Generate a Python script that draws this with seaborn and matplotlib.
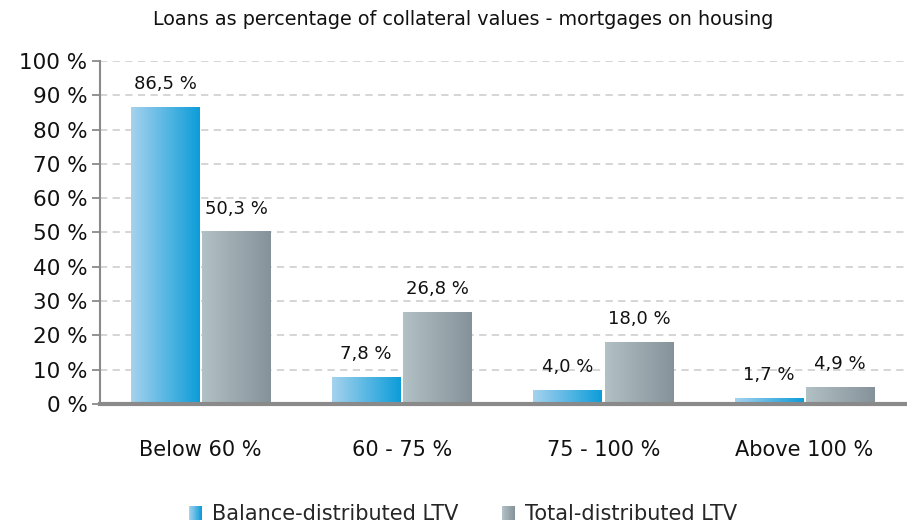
import numpy as np
import pandas as pd
import matplotlib
matplotlib.use("Agg")
import matplotlib.pyplot as plt
import seaborn as sns
from matplotlib.colors import LinearSegmentedColormap
from matplotlib.legend_handler import HandlerBase
from matplotlib.patches import Rectangle

categories = ["Below 60 %", "60 - 75 %", "75 - 100 %", "Above 100 %"]
balance_ltv = [86.5, 7.8, 4.0, 1.7]
total_ltv = [50.3, 26.8, 18.0, 4.9]
series_names = ["Balance-distributed LTV", "Total-distributed LTV"]
y_ticks = [0, 10, 20, 30, 40, 50, 60, 70, 80, 90, 100]

gradients = {
    series_names[0]: ("#a6d2ee", "#0c9dd9"),
    series_names[1]: ("#b2c1c5", "#85929a"),
}

df = pd.DataFrame({
    "category": categories * 2,
    "value": balance_ltv + total_ltv,
    "series": [series_names[0]] * len(categories) + [series_names[1]] * len(categories),
})

sns.set_theme(style="white")
plt.rcParams["font.family"] = ["DejaVu Sans"]

fig = plt.figure(figsize=(9.07, 5.25), dpi=100)
ax = fig.add_axes([0.1103, 0.2305, 0.8877, 0.6533])

sns.barplot(data=df, x="category", y="value", hue="series", order=categories,
            hue_order=series_names, width=0.71, gap=0.04, legend=False,
            palette=[gradients[s][1] for s in series_names], ax=ax, zorder=2)

# Horizontal gradient fill for each bar, clipped to the bar shape
n_cat = len(categories)
for i, patch in enumerate(ax.patches):
    series = series_names[i // n_cat]
    c0, c1 = gradients[series]
    cmap = LinearSegmentedColormap.from_list(series, [c0, c1])
    x0, y0 = patch.get_x(), patch.get_y()
    w, h = patch.get_width(), patch.get_height()
    grad = np.linspace(0, 1, 256).reshape(1, -1)
    im = ax.imshow(grad, cmap=cmap, aspect="auto", extent=(x0, x0 + w, y0, y0 + h),
                   zorder=3, interpolation="bilinear")
    im.set_clip_path(patch)
    patch.set_facecolor("none")
    patch.set_edgecolor("none")
    val = h
    ax.annotate(f"{val:.1f} %".replace(".", ","), (x0 + w / 2, val),
                xytext=(0, 10), textcoords="offset points", ha="center", va="bottom",
                fontsize=13, color="#111111")

ax.set_xlim(-0.5, n_cat - 0.5)
ax.set_ylim(0, 100)
ax.set_yticks(y_ticks)
ax.set_yticklabels([f"{t} %" for t in y_ticks], fontsize=15.5, color="#111111")
ax.yaxis.grid(True, linestyle=(0, (4, 3)), color="#d2d2d2", linewidth=1.3, zorder=0)
ax.set_axisbelow(True)

ax.set_xticks(range(n_cat))
ax.set_xticklabels(categories, fontsize=15, color="#111111")
ax.set_xticks(np.arange(0.5, n_cat - 0.5, 1.0), minor=True)
ax.tick_params(axis="x", which="major", length=0, pad=26)
ax.tick_params(axis="x", which="minor", length=6, width=1.3, color="#8a8a8a", direction="out")
ax.tick_params(axis="y", which="major", length=6, width=1.3, color="#8a8a8a", direction="out", pad=3, left=True)
ax.set_xlabel("")
ax.set_ylabel("")

for side in ["top", "right"]:
    ax.spines[side].set_visible(False)
ax.spines["left"].set_color("#8a8a8a")
ax.spines["left"].set_linewidth(1.5)
ax.spines["bottom"].set_color("#8a8a8a")
ax.spines["bottom"].set_linewidth(3)
ax.spines["bottom"].set_zorder(4)

fig.text(0.511, 0.963, "Loans as percentage of collateral values - mortgages on housing",
         ha="center", va="center", fontsize=13.8, color="#111111")


class GradientHandler(HandlerBase):
    def __init__(self, colors):
        super().__init__()
        self.colors = colors

    def create_artists(self, legend, orig_handle, xdescent, ydescent, width, height, fontsize, trans):
        cmap = LinearSegmentedColormap.from_list("h", self.colors)
        n = 16
        w = width
        h = 10
        x_start = -xdescent
        y_start = (height - h) / 2 - ydescent
        arts = []
        for k in range(n):
            r = Rectangle((x_start + k * w / n, y_start), w / n + 0.05, h,
                          facecolor=cmap(k / (n - 1)), edgecolor="none", transform=trans)
            arts.append(r)
        return arts


h1 = Rectangle((0, 0), 1, 1)
h2 = Rectangle((0, 0), 1, 1)
fig.legend([h1, h2], series_names, loc="center", bbox_to_anchor=(0.5105, 0.02),
           ncol=2, frameon=False, fontsize=15, handlelength=0.63, handletextpad=0.48,
           columnspacing=2.1, borderpad=0.1,
           handler_map={h1: GradientHandler(gradients[series_names[0]]),
                        h2: GradientHandler(gradients[series_names[1]])})

fig.savefig("out.png", dpi=100)
